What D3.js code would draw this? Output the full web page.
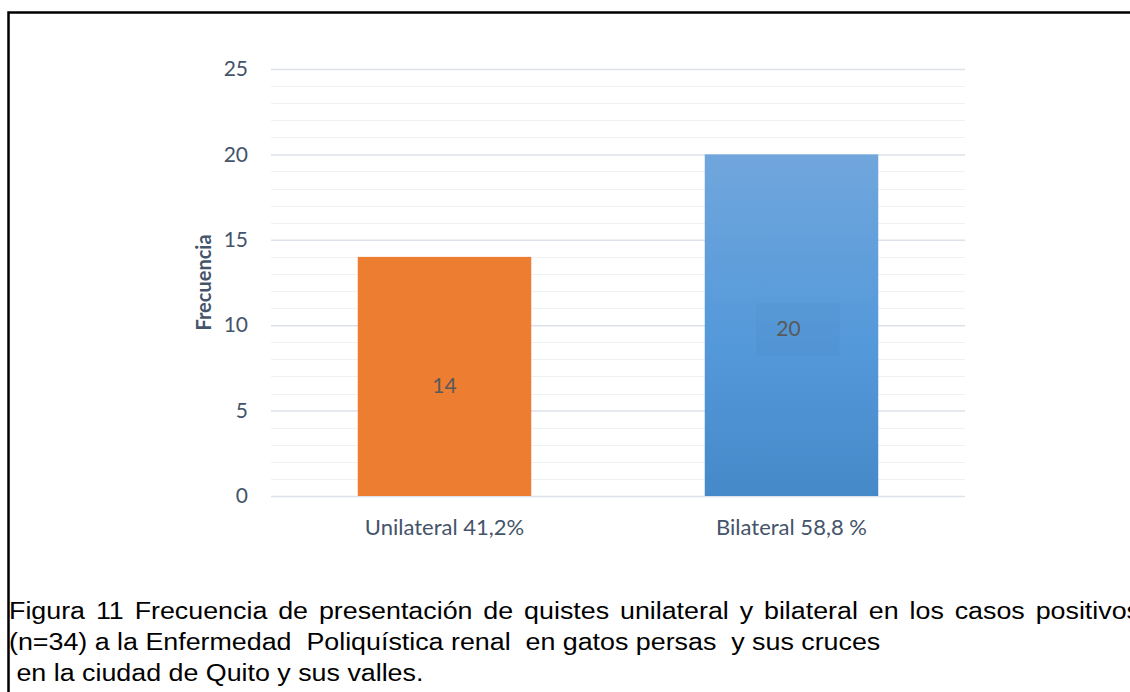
<!DOCTYPE html>
<html>
<head>
<meta charset="utf-8">
<script src="https://cdn.jsdelivr.net/npm/d3@7"></script>
<style>
  body { margin: 0; background: #fff; }
  svg { display: block; }
</style>
</head>
<body>
<div id="graph"></div>
<script>
// categorias y frecuencias
var categorias = ["Unilateral 41,2%", "Bilateral 58,8 %"];
var frecuencias = [14, 20];
var ticksY = [0, 5, 10, 15, 20, 25];
var leyenda = [
  "Figura 11 Frecuencia de presentación de quistes unilateral y bilateral en los casos positivos",
  "(n=34) a la Enfermedad  Poliquística renal  en gatos persas  y sus cruces",
  " en la ciudad de Quito y sus valles."
];

var width = 1130;
var height = 692;
var plotLeft = 271, plotRight = 965, plotTop = 69, plotBottom = 496;
var textColor = "#44546a";
var calibri = "Lato, 'Open Sans', sans-serif";

var svg = d3.select("#graph").
  append("svg").
  attr("width", width).
  attr("height", height);

// marco negro
svg.append("path").
  attr("d", "M8.5," + height + " L8.5,12.5 L" + width + ",12.5").
  attr("fill", "none").
  attr("stroke", "#000").
  attr("stroke-width", 2.5);

var xScale = d3.scaleBand().
  domain(categorias).
  range([plotLeft, plotRight]).
  paddingInner(0.5).
  paddingOuter(0.25);

var yScale = d3.scaleLinear().
  domain([0, 25]).
  range([plotBottom, plotTop]);

// lineas menores
svg.append("g").
  selectAll("line").
  data(d3.range(0, 26).filter(function (v) {return v % 5 !== 0;})).
  enter().
  append("line").
  attr("x1", plotLeft).
  attr("x2", plotRight).
  attr("y1", function (v) {return Math.round(yScale(v)) + 0.5;}).
  attr("y2", function (v) {return Math.round(yScale(v)) + 0.5;}).
  attr("stroke", "#eff1f4").
  attr("stroke-width", 1);

// lineas principales
var yAxis = d3.axisLeft(yScale).
  tickValues(ticksY).
  tickSize(-(plotRight - plotLeft)).
  tickPadding(23);

var gy = svg.append("g").
  attr("transform", "translate(" + plotLeft + ",0)").
  call(yAxis);

gy.select(".domain").remove();
gy.selectAll(".tick line").
  attr("stroke", "#dde2ea").
  attr("stroke-width", 1.5);
gy.selectAll(".tick text").
  style("font-family", calibri).
  style("font-size", "21px").
  attr("fill", textColor);

var defs = svg.append("defs");
var grad = defs.append("linearGradient").
  attr("id", "azul").
  attr("x1", 0).attr("y1", 0).attr("x2", 0).attr("y2", 1);
grad.append("stop").attr("offset", "0%").attr("stop-color", "#70a6dc");
grad.append("stop").attr("offset", "55%").attr("stop-color", "#5499da");
grad.append("stop").attr("offset", "100%").attr("stop-color", "#4689c9");

var colores = ["#ed7d31", "url(#azul)"];

svg.selectAll("rect.bar").
  data(frecuencias).
  enter().
  append("rect").
  attr("class", "bar").
  attr("x", function (d, i) {return xScale(categorias[i]);}).
  attr("y", function (d) {return yScale(d);}).
  attr("width", xScale.bandwidth()).
  attr("height", function (d) {return yScale(0) - yScale(d);}).
  attr("fill", function (d, i) {return colores[i];});

// caja detras de la etiqueta 20
var cx20 = xScale(categorias[1]) + xScale.bandwidth() / 2;
svg.append("rect").
  attr("x", cx20 - 35).
  attr("y", 303).
  attr("width", 83).
  attr("height", 53).
  attr("fill", "#4a7fb5").
  attr("opacity", 0.12);

var etiquetasY = [393, 336];
var etiquetasDx = [0, -3];

svg.selectAll("text.val").
  data(frecuencias).
  enter().
  append("text").
  attr("class", "val").
  attr("x", function (d, i) {return xScale(categorias[i]) + xScale.bandwidth() / 2 + etiquetasDx[i];}).
  attr("y", function (d, i) {return etiquetasY[i];}).
  attr("text-anchor", "middle").
  style("font-family", calibri).
  style("font-size", "21px").
  attr("fill", "#595959").
  text(function (d) {return d;});

svg.selectAll("text.cat").
  data(categorias).
  enter().
  append("text").
  attr("class", "cat").
  attr("x", function (d) {return xScale(d) + xScale.bandwidth() / 2;}).
  attr("y", 535).
  attr("text-anchor", "middle").
  style("font-family", calibri).
  style("font-size", "22px").
  attr("fill", textColor).
  text(function (d) {return d;});

svg.append("text").
  attr("transform", "translate(211," + (plotTop + plotBottom) / 2 + ") rotate(-90)").
  attr("text-anchor", "middle").
  style("font-family", calibri).
  style("font-size", "20px").
  style("font-weight", "bold").
  attr("fill", textColor).
  text("Frecuencia");

// leyenda de la figura
var gLey = svg.append("g");
var lineas = gLey.selectAll("text.ley").
  data(leyenda).
  enter().
  append("text").
  attr("class", "ley").
  attr("x", 0).
  attr("y", function (d, i) {return 619 + i * 31;}).
  attr("xml:space", "preserve").
  style("white-space", "pre").
  style("font-family", "'Liberation Sans', Arial, sans-serif").
  style("font-size", "24px").
  attr("fill", "#000").
  text(function (d) {return d;});

// estirar a lo ancho como en la imagen original
var segunda = lineas.filter(function (d, i) {return i === 1;}).node().getComputedTextLength();
var sx = (881 - 9) / segunda;
gLey.attr("transform", "translate(9,0) scale(" + sx + ",1)");

// justificar la primera linea
var primera = lineas.filter(function (d, i) {return i === 0;});
var ancho = primera.node().getComputedTextLength();
var espacios = leyenda[0].split(" ").length - 1;
var objetivo = (1140 - 9) / sx;
if (ancho < objetivo) primera.style("word-spacing", ((objetivo - ancho) / espacios) + "px");
</script>
</body>
</html>
